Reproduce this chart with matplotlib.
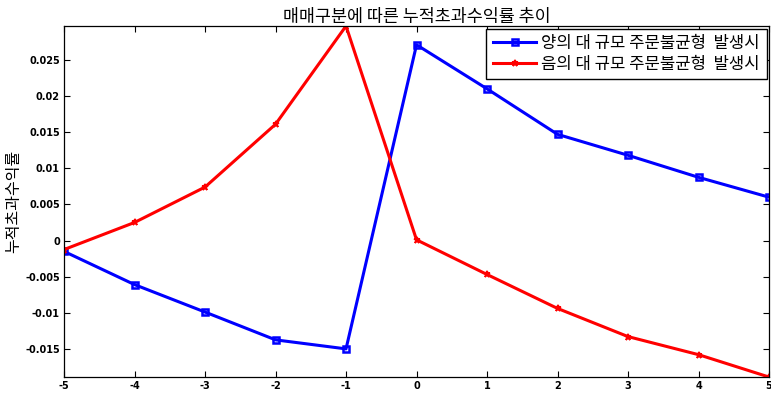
import matplotlib
matplotlib.use("Agg")
import matplotlib.pyplot as plt

plt.rcParams['font.family'] = ['Noto Sans CJK KR', 'DejaVu Sans']

days = [-5, -4, -3, -2, -1, 0, 1, 2, 3, 4, 5]
positive_shock = [-0.0015, -0.0061, -0.0099, -0.01375, -0.0150, 0.0271,
                  0.0210, 0.0147, 0.0118, 0.00875, 0.0060]
negative_shock = [-0.00125, 0.0025, 0.0074, 0.0161, 0.0297, 0.0001,
                  -0.0047, -0.0094, -0.0133, -0.0158, -0.0189]
series_labels = ['양의 대 규모 주문불균형  발생시', '음의 대 규모 주문불균형  발생시']
yticks = [-0.015, -0.01, -0.005, 0, 0.005, 0.01, 0.015, 0.02, 0.025]
ytick_labels = ['-0.015', '-0.01', '-0.005', '0', '0.005', '0.01', '0.015', '0.02', '0.025']
title_text = '매매구분에 따른 누적초과수익률 추이'
ylabel_text = '누적초과수익률'

fig = plt.figure(figsize=(7.71, 3.94), dpi=100)
ax = fig.add_axes([0.083, 0.043, 0.9145, 0.891])

ax.plot(days, positive_shock, color='#0000ff', lw=2.2, marker='s', ms=4,
        mfc='none', mew=1.8, label=series_labels[0])
ax.plot(days, negative_shock, color='#ff0000', lw=2.2, marker='*', ms=5,
        mew=1.2, label=series_labels[1])

ax.set_xlim(min(days), max(days))
ax.set_ylim(min(negative_shock), max(negative_shock))
ax.set_xticks(days)
ax.set_xticklabels([str(d) for d in days], fontsize=7, fontweight='bold',
                   family='DejaVu Sans')
ax.set_yticks(yticks)
ax.set_yticklabels(ytick_labels, fontsize=7, fontweight='bold',
                   family='DejaVu Sans')
ax.tick_params(direction='in', top=True, right=True, length=4, width=0.8, pad=3)
for sp in ax.spines.values():
    sp.set_linewidth(0.9)

ax.set_title(title_text, fontsize=12.5, pad=3)
ax.set_ylabel(ylabel_text, fontsize=11.5, labelpad=2)

leg = ax.legend(loc='upper right', fontsize=12, fancybox=False, framealpha=1,
                edgecolor='black', borderaxespad=0.15, handlelength=2.6,
                handletextpad=0.3, borderpad=0.4, labelspacing=0.2)
leg.get_frame().set_linewidth(1.0)

fig.savefig('out.png', dpi=100)
